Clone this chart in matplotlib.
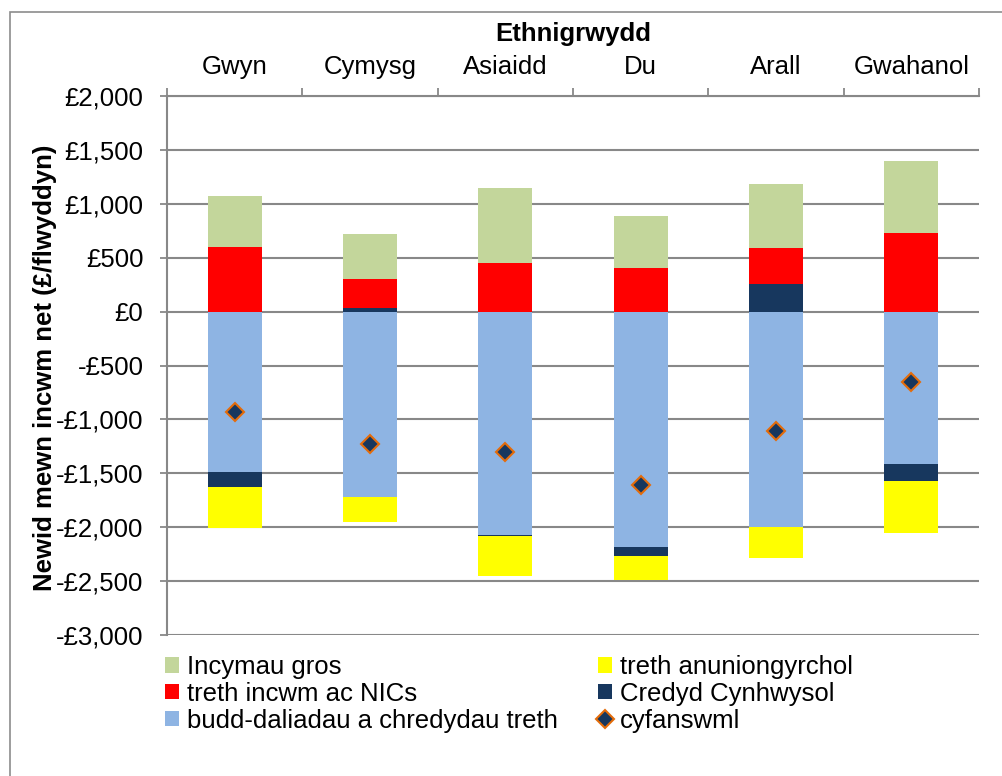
import matplotlib
matplotlib.use("Agg")
import matplotlib.pyplot as plt
from matplotlib.patches import Rectangle, Patch
from matplotlib.lines import Line2D
import numpy as np

plt.rcParams['font.family'] = ['Liberation Sans', 'DejaVu Sans']

categories = ["Gwyn", "Cymysg", "Asiaidd", "Du", "Arall", "Gwahanol"]
incymau_gros = [473, 418, 693, 485, 591, 671]
treth_incwm = [598, 273, 452, 403, 337, 727]
budd_daliadau = [-1487, -1717, -2068, -2182, -2000, -1410]
credyd_cynhwysol = [-137, 30, -15, -83, 254, -164]
treth_anuniongyrchol = [-379, -232, -371, -226, -290, -482]
cyfanswm = [-935, -1227, -1304, -1607, -1106, -657]

yticks = [-3000, -2500, -2000, -1500, -1000, -500, 0, 500, 1000, 1500, 2000]
ytick_labels = ["-£3,000", "-£2,500", "-£2,000", "-£1,500", "-£1,000", "-£500",
                "£0", "£500", "£1,000", "£1,500", "£2,000"]

c_green = "#C3D69B"
c_red = "#FF0000"
c_blue = "#8EB4E3"
c_navy = "#17375E"
c_yellow = "#FFFF00"
c_orange = "#E46C0A"
c_grid = "#888888"

FS = 18.5
W, H = 1003, 776
fig = plt.figure(figsize=(W / 100, H / 100), dpi=100)
fig.patch.set_facecolor("white")
fig.add_artist(Rectangle((10 / W, -0.05), 1.1, 1 - 12 / H + 0.05,
                         transform=fig.transFigure, fill=False,
                         edgecolor="#8c8c8c", linewidth=1.2))

ax_l, ax_r, ax_t, ax_b = 167, 979, 96, 635
ax = fig.add_axes([ax_l / W, 1 - ax_b / H, (ax_r - ax_l) / W, (ax_b - ax_t) / H])
x = np.arange(len(categories))
width = 0.4

series = [
    (budd_daliadau, c_blue),
    (credyd_cynhwysol, c_navy),
    (treth_incwm, c_red),
    (incymau_gros, c_green),
    (treth_anuniongyrchol, c_yellow),
]
pos = np.zeros(len(categories))
neg = np.zeros(len(categories))
for vals, col in series:
    v = np.array(vals, dtype=float)
    bottom = np.where(v >= 0, pos, neg)
    ax.bar(x, v, width, bottom=bottom, color=col, zorder=3, linewidth=0)
    pos = pos + np.where(v >= 0, v, 0)
    neg = neg + np.where(v < 0, v, 0)

ax.plot(x, cyfanswm, linestyle="none", marker="D", markersize=9.5,
        markerfacecolor=c_navy, markeredgecolor=c_orange, markeredgewidth=1.5,
        zorder=5)

ax.set_xlim(-0.5, len(categories) - 0.5)
ax.set_ylim(-3000, 2000)
ax.set_yticks(yticks)
ax.set_yticklabels(ytick_labels, fontsize=FS)
ax.yaxis.grid(True, color=c_grid, linewidth=1.5, zorder=0)
ax.set_axisbelow(True)

ax.xaxis.tick_top()
ax.xaxis.set_label_position("top")
ax.set_xticks(x)
ax.set_xticklabels(categories, fontsize=FS)
ax.set_xticks(np.arange(-0.5, len(categories)), minor=True)
ax.tick_params(axis="x", which="major", length=0, pad=12)
ax.tick_params(axis="x", which="minor", length=5.8, width=1.3, color=c_grid, direction="out")
ax.tick_params(axis="y", length=5, width=1.3, color=c_grid, direction="out", pad=12)
ax.set_xlabel("Ethnigrwydd", fontsize=FS, fontweight="bold")
ax.xaxis.set_label_coords(0.5, (ax_b - 41) / (ax_b - ax_t))
ax.xaxis.label.set_verticalalignment("baseline")
ax.set_ylabel("Newid mewn incwm net (£/flwyddyn)", fontsize=FS, fontweight="bold")
ax.yaxis.set_label_coords((57 - ax_l) / (ax_r - ax_l), (ax_b - 367.5) / (ax_b - ax_t))

for s in ["right", "bottom"]:
    ax.spines[s].set_visible(False)
for s in ["left", "top"]:
    ax.spines[s].set_color(c_grid)
    ax.spines[s].set_linewidth(1.5)

col1 = [
    Patch(facecolor=c_green, label="Incymau gros"),
    Patch(facecolor=c_red, label="treth incwm ac NICs"),
    Patch(facecolor=c_blue, label="budd-daliadau a chredydau treth"),
]
col2 = [
    Patch(facecolor=c_yellow, label="treth anuniongyrchol"),
    Patch(facecolor=c_navy, label="Credyd Cynhwysol"),
    Line2D([], [], linestyle="none", marker="D", markersize=9.5,
           markerfacecolor=c_navy, markeredgecolor=c_orange, markeredgewidth=1.5,
           label="cyfanswml"),
]
leg_kw = dict(loc="upper left", frameon=False, fontsize=FS, handlelength=0.55,
              handleheight=0.55, handletextpad=0.3, labelspacing=0.11,
              borderpad=0, borderaxespad=0)
fig.legend(handles=col1, bbox_to_anchor=(165 / W, 1 - 655 / H), **leg_kw)
fig.legend(handles=col2, bbox_to_anchor=(598 / W, 1 - 655 / H), **leg_kw)

fig.savefig("out.png", dpi=100)
